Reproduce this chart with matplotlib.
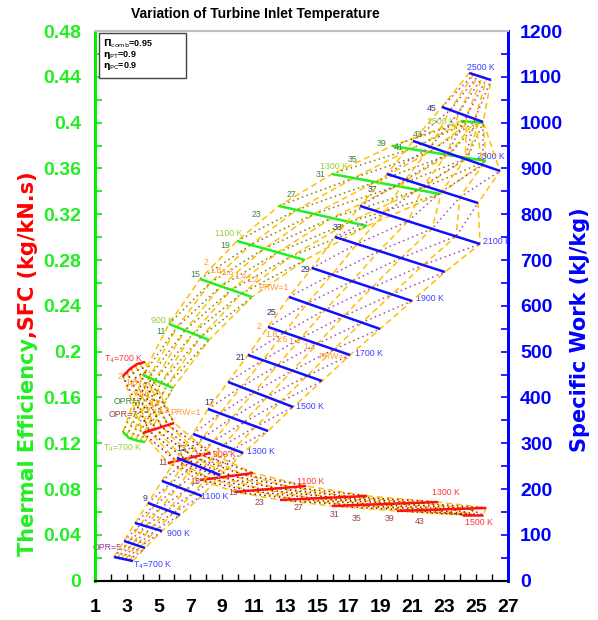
import numpy as np
import matplotlib
matplotlib.use("Agg")
import matplotlib.pyplot as plt
from matplotlib.patches import Rectangle

plt.rcParams['font.family'] = ['Liberation Sans', 'DejaVu Sans']

# ---------------- data ----------------
x_ticks = list(range(1, 28, 2))
left_ticks = [0, 0.04, 0.08, 0.12, 0.16, 0.2, 0.24, 0.28, 0.32, 0.36, 0.4, 0.44, 0.48]
left_labels = ['0', '0.04', '0.08', '0.12', '0.16', '0.2', '0.24', '0.28', '0.32', '0.36', '0.4', '0.44', '0.48']
right_ticks = [0, 100, 200, 300, 400, 500, 600, 700, 800, 900, 1000, 1100, 1200]

# Specific work carpet (right axis): T4 = 700 ... 2500 K
sw_T4 = [700, 800, 900, 1000, 1100, 1200, 1300, 1400, 1500, 1600, 1700, 1800,
         1900, 2000, 2100, 2200, 2300, 2400, 2500]
sw_x = [[2.20, 3.39], [2.83, 4.15], [3.52, 5.22], [4.34, 6.36], [5.22, 7.74],
        [6.17, 8.88], [7.18, 10.33], [8.12, 11.90], [9.38, 13.48], [10.64, 15.30],
        [11.90, 17.07], [13.22, 18.96], [14.67, 20.97], [16.12, 23.05], [17.70, 25.26],
        [19.40, 25.13], [21.04, 26.52], [22.86, 25.45], [24.57, 25.95]]
sw_w = [[51.7, 43.0], [86.7, 71.4], [126.0, 108.5], [169.6, 143.4], [217.7, 184.9],
        [267.9, 230.8], [320.3, 278.8], [374.8, 326.8], [433.8, 379.2], [492.7, 436.0],
        [553.9, 492.7], [619.4, 549.5], [682.6, 610.6], [750.3, 673.9], [818.0, 735.0],
        [887.9, 824.5], [959.9, 894.4], [1034.1, 1001.4], [1108.4, 1093.1]]

# Thermal efficiency carpet (left axis): T4 = 700 ... 1500 K
eff_T4 = [700, 800, 900, 1000, 1100, 1200, 1300, 1400, 1500]
eff_x = [[2.76, 3.14, 3.71, 4.15], [4.02, 5.91], [5.66, 8.18], [7.62, 10.89],
         [9.95, 14.23], [12.59, 18.14], [15.93, 22.74], [19.71, 25.64], [24.06, 25.45]]
eff_y = [[0.1298, 0.1246, 0.1220, 0.1211], [0.1796, 0.1683], [0.2242, 0.2102],
         [0.2634, 0.2477], [0.2966, 0.2800], [0.3272, 0.3097], [0.3551, 0.3377],
         [0.3796, 0.3665], [0.4014, 0.3997]]

# SFC carpet (left axis): T4 = 700 ... 1500 K
sfc_T4 = [700, 800, 900, 1000, 1100, 1200, 1300, 1400, 1500]
sfc_x = [[2.76, 3.20, 3.65, 4.15], [4.02, 5.98], [5.60, 8.25], [7.62, 10.96],
         [9.82, 14.30], [12.66, 18.14], [15.93, 22.61], [20.03, 25.64], [24.13, 25.45]]
sfc_y = [[0.1787, 0.1849, 0.1892, 0.1910], [0.1290, 0.1377], [0.1028, 0.1115],
         [0.0879, 0.0940], [0.0775, 0.0827], [0.0705, 0.0740], [0.0652, 0.0687],
         [0.0609, 0.0635], [0.0574, 0.0574]]

prw_values = ['2', '1.8', '1.6', '1.4', '1.2', 'PRW=1']

# ---------------- figure ----------------
fig = plt.figure(figsize=(5.98, 6.2), dpi=100)
ax = fig.add_axes([0.1589, 0.0634, 0.6901, 0.8866])
ax2 = ax.twinx()
ax.set_xlim(1, 27)
ax.set_ylim(0, 0.48)
ax2.set_ylim(0, 1200)

GREEN = '#00ee00'
BLUE = '#0000ff'
ORANGE = '#ffc000'


def frac_points(xs, ys, fracs, xspan, yspan):
    xs = np.asarray(xs, float)
    ys = np.asarray(ys, float)
    d = np.hypot(np.diff(xs) / xspan, np.diff(ys) / yspan)
    s = np.concatenate([[0], np.cumsum(d)])
    s = s / s[-1]
    return np.interp(fracs, s, xs), np.interp(fracs, s, ys)


def draw_carpet(axis, seg_x, seg_y, solid, dot, yspan):
    fr = np.linspace(0, 1, 6)
    P = np.array([np.column_stack(frac_points(sx, sy, fr, 26.0, yspan))
                  for sx, sy in zip(seg_x, seg_y)])
    n = len(seg_x)
    for j in range(6):
        axis.plot(P[:, j, 0], P[:, j, 1], color=ORANGE, lw=1.1,
                  ls=(0, (4, 2.5)), zorder=2)
    for d in range(-(n - 1), 6):
        idx = [(i, i + d) for i in range(n) if 0 <= i + d < 6]
        if len(idx) >= 2:
            axis.plot([P[i, j, 0] for i, j in idx], [P[i, j, 1] for i, j in idx],
                      color=dot, lw=1.1, ls=(0, (1, 2.2)), zorder=3)
    for sx, sy in zip(seg_x, seg_y):
        axis.plot(sx, sy, color=solid, lw=1.8, zorder=4, solid_capstyle='butt')


draw_carpet(ax2, sw_x, sw_w, '#1010ff', '#a050a8', 1200.0)
draw_carpet(ax, eff_x, eff_y, '#22ee22', '#808000', 0.48)
draw_carpet(ax, sfc_x, sfc_y, '#ff1010', '#8b1a1a', 0.48)

# ---------------- labels on carpets ----------------
FS = 6.3
NAVY = '#333377'
KBLUE = '#3c3cff'
LGREEN = '#99cc33'
DGREEN = '#3a8a3a'
RED = '#ff3333'
BROWN = '#994444'
ORTXT = '#ff9933'

ann = [
    (r'T$_4$=700 K', 3.39, 0.0137, KBLUE), ('OPR=5', 0.87, 0.0294, '#993399'),
    ('900 K', 5.54, 0.0408, KBLUE), ('9', 4.02, 0.0722, NAVY),
    ('1100 K', 7.68, 0.0731, KBLUE), ('13', 6.10, 0.1150, NAVY),
    ('1300 K', 10.58, 0.1124, KBLUE), ('17', 7.87, 0.1560, NAVY),
    ('1500 K', 13.67, 0.1525, KBLUE), ('21', 9.88, 0.1953, NAVY),
    ('1700 K', 17.38, 0.1988, KBLUE), ('25', 11.78, 0.2338, NAVY),
    ('29', 13.98, 0.2714, NAVY), ('1900 K', 21.23, 0.2460, KBLUE),
    ('33', 16.00, 0.3080, NAVY), ('2100 K', 25.45, 0.2958, KBLUE),
    ('37', 18.20, 0.3420, NAVY), ('2300 K', 25.07, 0.3708, KBLUE),
    ('45', 21.92, 0.4119, NAVY), ('2500 K', 24.44, 0.4477, KBLUE),
    # efficiency
    (r'T$_4$=700 K', 1.50, 0.1159, LGREEN), ('OPR=7', 2.20, 0.1569, DGREEN),
    ('900 K', 4.53, 0.2276, LGREEN), ('11', 4.84, 0.2180, DGREEN),
    ('15', 6.99, 0.2678, DGREEN), ('1100 K', 8.56, 0.3036, LGREEN),
    ('19', 8.88, 0.2923, DGREEN), ('23', 10.89, 0.3202, DGREEN),
    ('27', 13.04, 0.3368, DGREEN), ('1300 K', 15.18, 0.3613, LGREEN),
    ('31', 14.93, 0.3543, DGREEN), ('35', 16.94, 0.3674, DGREEN),
    ('39', 18.77, 0.3814, DGREEN), ('41', 19.84, 0.3779, DGREEN),
    ('43', 21.04, 0.3892, DGREEN), ('1500 K', 21.92, 0.4014, LGREEN),
    # sfc
    (r'T$_4$=700 K', 1.57, 0.1936, RED), ('OPR=7', 1.88, 0.1447, BROWN),
    ('11', 4.97, 0.1028, BROWN), ('900 K', 8.44, 0.1098, RED),
    ('15', 6.99, 0.0862, BROWN), ('1100 K', 13.73, 0.0862, RED),
    ('19', 9.40, 0.0766, BROWN), ('23', 11.08, 0.0687, BROWN),
    ('27', 13.48, 0.0635, BROWN), ('31', 15.81, 0.0582, BROWN),
    ('35', 17.19, 0.0547, BROWN), ('39', 19.27, 0.0539, BROWN),
    ('43', 21.16, 0.0521, BROWN), ('1300 K', 22.24, 0.0766, RED),
    ('1500 K', 24.31, 0.0504, RED),
]
for t, x, y, c in ann:
    ax.text(x, y, t, color=c, fontsize=FS, ha='left', va='center', zorder=6,
            clip_on=False)

prw_pos = [
    [(11.21, 0.2224), (11.71, 0.2154), (12.34, 0.2110), (13.16, 0.2093), (14.11, 0.2041), (15.05, 0.1962)],
    [(7.81, 0.2782), (8.20, 0.2713), (8.98, 0.2690), (9.80, 0.2652), (10.55, 0.2626), (11.28, 0.2556)],
    [(2.45, 0.1787), (2.89, 0.1734), (3.65, 0.1638), (4.28, 0.1551), (4.91, 0.1490), (5.73, 0.1473)],
]
for group in prw_pos:
    for t, (x, y) in zip(prw_values, group):
        ax.text(x, y, t, color=ORTXT, fontsize=FS, ha='left', va='center', zorder=6)

# ---------------- axes styling ----------------
for a in (ax, ax2):
    a.spines['left'].set_color(GREEN)
    a.spines['left'].set_linewidth(2)
    a.spines['right'].set_color(BLUE)
    a.spines['right'].set_linewidth(2)
    a.spines['top'].set_color('#c0c0c0')
    a.spines['top'].set_linewidth(1.5)
    a.spines['bottom'].set_color('black')
    a.spines['bottom'].set_linewidth(1.5)

ax.set_xticks(x_ticks)
ax.set_xticks(range(1, 28), minor=True)
ax.set_yticks(left_ticks)
ax.set_yticklabels(left_labels)
ax.set_yticks(np.arange(0, 0.481, 0.02), minor=True)
ax2.set_yticks(right_ticks)
ax2.set_yticks(range(0, 1201, 50), minor=True)

ax.tick_params(axis='x', which='both', direction='in', length=5, width=1, colors='black',
               labelsize=14, pad=13)
ax.tick_params(axis='y', which='both', direction='in', length=5, width=1.2, colors=GREEN,
               labelsize=14, pad=10)
ax2.tick_params(axis='y', which='both', direction='in', length=5, width=1.2, colors=BLUE,
                labelsize=14, pad=9)
for lab in ax.get_xticklabels() + ax.get_yticklabels() + ax2.get_yticklabels():
    lab.set_fontweight('bold')
for lab in ax.get_yticklabels():
    lab.set_color('#22ee22')

fig.text(0.427, 0.978, 'Variation of Turbine Inlet Temperature', ha='center', va='center',
         fontsize=10, fontweight='bold')

# left y-label in two colours
LBL_FONT = dict(family=['DejaVu Sans'], fontsize=15, fontweight='bold')
t1 = fig.text(28 / 598, (620 - 556) / 620, 'Thermal Efficiency', rotation=90, color='#22ee22',
              ha='center', va='bottom', **LBL_FONT)
fig.canvas.draw()
bb = t1.get_window_extent()
fig.text(28 / 598, bb.y1 / fig.bbox.height, ',SFC (kg/kN.s)', rotation=90, color='#ff0000',
         ha='center', va='bottom', **LBL_FONT)

fig.text(580 / 598, (620 - 330) / 620, 'Specific Work (kJ/kg)', rotation=90, color=BLUE,
         ha='center', va='center', **LBL_FONT)

# parameter box
fig.patches.append(Rectangle((99 / 598, (620 - 78) / 620), 87 / 598, 45 / 620,
                             transform=fig.transFigure, fill=True, facecolor='white',
                             edgecolor='#444444', lw=1, zorder=10))
box_txt = [r'$\mathbf{\Pi}_{\mathrm{comb}}$=0.95', r'$\mathbf{\eta}_{\mathrm{PT}}$=0.9',
           r'$\mathbf{\eta}_{\mathrm{PC}}$=0.9']
for k, t in enumerate(box_txt):
    fig.text(103 / 598, (620 - (44 + 11 * k)) / 620, t, fontsize=6.5, fontweight='bold',
             ha='left', va='center', zorder=11)

fig.savefig('out.png', dpi=100)
